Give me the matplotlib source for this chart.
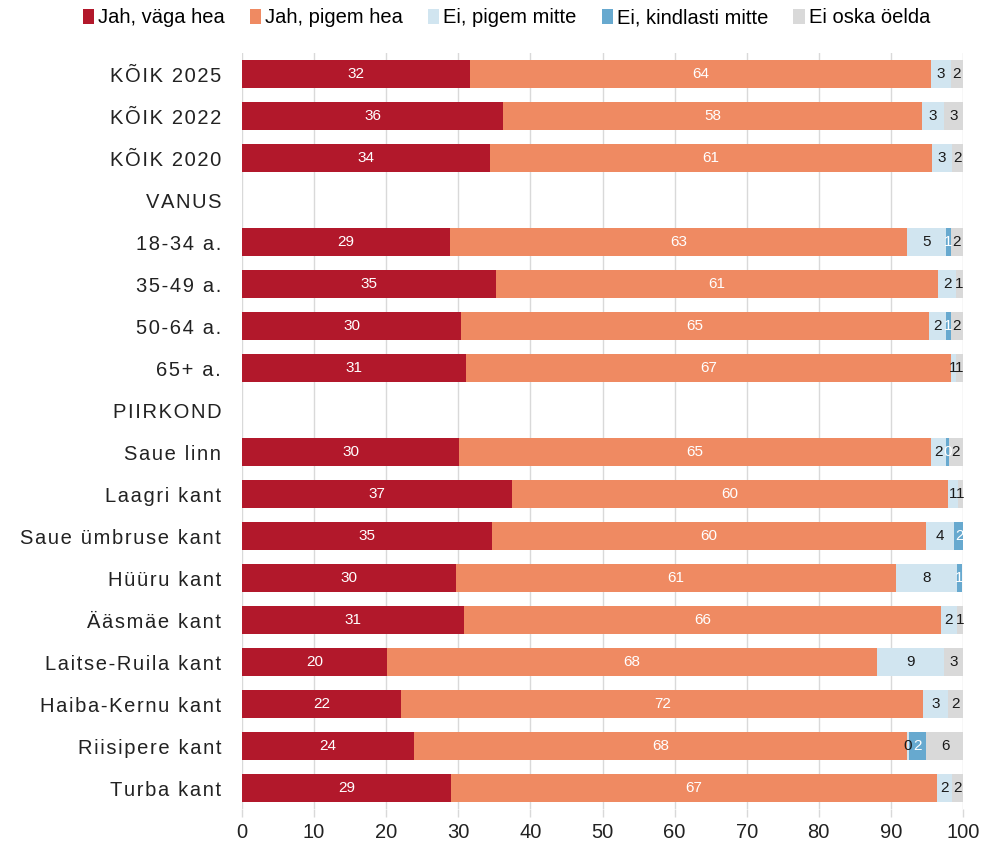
import matplotlib.pyplot as plt
import numpy as np
from matplotlib.patches import Patch

categories = [
    "KÕIK 2025", "KÕIK 2022", "KÕIK 2020", "VANUS",
    "18-34 a.", "35-49 a.", "50-64 a.", "65+ a.", "PIIRKOND",
    "Saue linn", "Laagri kant", "Saue ümbruse kant", "Hüüru kant",
    "Ääsmäe kant", "Laitse-Ruila kant", "Haiba-Kernu kant",
    "Riisipere kant", "Turba kant",
]
series_names = ["Jah, väga hea", "Jah, pigem hea", "Ei, pigem mitte",
                "Ei, kindlasti mitte", "Ei oska öelda"]

# None = section header row (no bar)
very_good = [31.6, 36.2, 34.4, None, 28.9, 35.2, 30.4, 31.1, None,
             30.1, 37.4, 34.7, 29.7, 30.8, 20.1, 22.1, 23.9, 29.0]
rather_good = [64.0, 58.1, 61.3, None, 63.4, 61.4, 64.9, 67.2, None,
               65.4, 60.5, 60.2, 61.0, 66.1, 68.0, 72.4, 68.3, 67.4]
rather_bad = [2.7, 3.1, 2.8, None, 5.3, 2.4, 2.4, 0.7, None,
              2.2, 1.4, 3.8, 8.4, 2.2, 9.3, 3.4, 0.3, 2.1]
very_bad = [0, 0, 0, None, 0.7, 0, 0.6, 0, None,
            0.3, 0, 1.6, 0.8, 0, 0, 0, 2.3, 0]
dont_know = [1.7, 2.6, 1.5, None, 1.7, 1.0, 1.7, 1.0, None,
             2.0, 0.7, 0, 0, 0.9, 2.6, 2.1, 5.5, 1.6]

colors = ["#B2182B", "#EF8A62", "#D1E5F0", "#67A9CF", "#D9D9D9"]
text_colors = ["white", "white", "#1a1a1a", "white", "#1a1a1a"]

plt.rcParams["font.family"] = ["Liberation Sans", "DejaVu Sans"]

fig = plt.figure(figsize=(9.93, 8.43), dpi=100)
ax = fig.add_axes([242 / 993, 34 / 843, 721 / 993, 756 / 843])

y = np.arange(len(categories))
data = [np.array([np.nan if v is None else v for v in s], dtype=float)
        for s in (very_good, rather_good, rather_bad, very_bad, dont_know)]
has_bar = ~np.isnan(data[0])

left = np.zeros(len(categories))
for vals, col, tcol in zip(data, colors, text_colors):
    ax.barh(y[has_bar], vals[has_bar], left=left[has_bar], height=0.67,
            color=col, edgecolor="none", zorder=2)
    for i in np.where(has_bar)[0]:
        v = vals[i]
        if v > 0:
            ax.text(left[i] + v / 2, y[i], f"{v:.0f}", ha="center",
                    va="center", fontsize=11, color=tcol, zorder=3)
    left = left + np.nan_to_num(vals)


def spaced(s):
    # widen letter spacing with hair spaces
    return "\u200a".join(s)


ax.set_yticks(y)
ax.set_yticklabels([spaced(c) for c in categories], fontsize=14.5, color="#222222")
ax.set_ylim(len(categories) - 0.5, -0.5)
ax.set_xlim(0, 100)
ax.set_xticks(np.arange(0, 101, 10))
ax.tick_params(axis="x", labelsize=14.5, colors="#d9d9d9", labelcolor="#222222",
               length=6, width=1, pad=4)
ax.tick_params(axis="y", length=0, pad=15)
ax.grid(axis="x", color="#d9d9d9", linewidth=1, zorder=0)
for sp in ax.spines.values():
    sp.set_visible(False)

handles = [Patch(facecolor=c, edgecolor="none") for c in colors]
fig.legend(handles, series_names, loc="center", bbox_to_anchor=(0.51, 0.979),
           ncol=5, frameon=False, fontsize=14.5, handlelength=0.55,
           handleheight=0.75, handletextpad=0.2, columnspacing=1.25)

fig.savefig("out.png", dpi=100)
